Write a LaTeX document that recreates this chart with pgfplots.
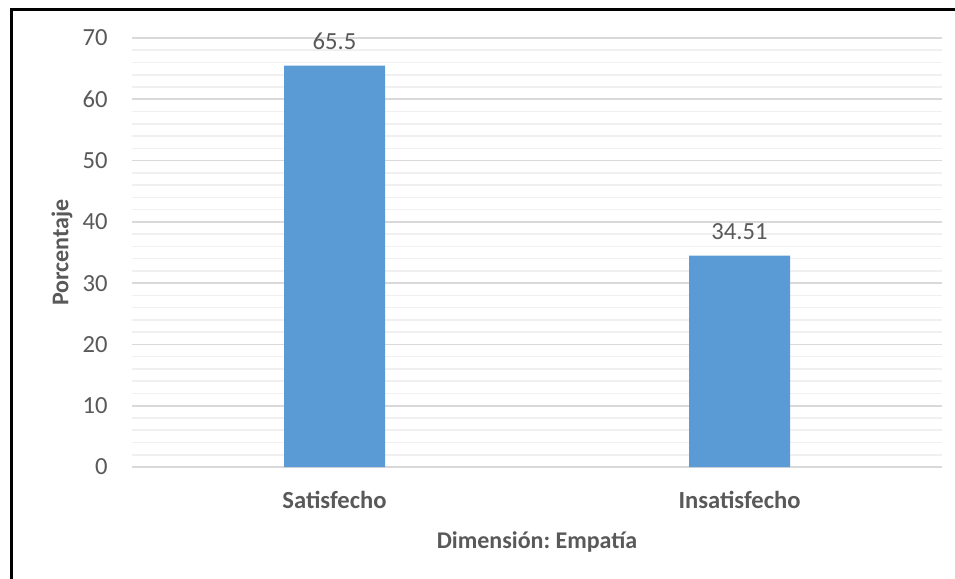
\documentclass[border=0pt]{standalone}
\usepackage{fontspec}
\setmainfont{Carlito}
\usepackage{pgfplots}
\pgfplotsset{compat=1.18}
\definecolor{barblue}{HTML}{5B9BD5}
\definecolor{txt}{HTML}{595959}
\definecolor{majgrid}{HTML}{D9D9D9}
\definecolor{mingrid}{HTML}{F0F0F0}
\frenchspacing
\begin{document}
\begin{tikzpicture}
\useasboundingbox (0,0) rectangle (477.5pt,289.5pt);
% frame around the chart
\draw[line width=1.5pt] (5.5pt,0) -- (5.5pt,284.5pt) -- (477.5pt,284.5pt);
\begin{axis}[
  at={(66pt,56pt)}, anchor=south west,
  scale only axis, width=405pt, height=214.5pt,
  xmin=-0.5, xmax=1.5, ymin=0, ymax=70,
  ytick={0,10,...,70}, minor y tick num=4,
  xtick={0,1},
  xticklabels={\textbf{Satisfecho},\textbf{Insatisfecho}},
  axis line style={draw=none},
  major tick style={draw=none}, minor tick style={draw=none},
  ymajorgrids, yminorgrids,
  major grid style={majgrid, line width=0.8pt},
  minor grid style={mingrid, line width=0.8pt},
  /pgf/number format/assume math mode=true,
  tick label style={font=\fontsize{12.3}{14}\selectfont, text=txt},
  yticklabel style={anchor=east, inner sep=0pt, xshift=-12pt},
  xticklabel style={anchor=center, inner sep=0pt, yshift=-16.5pt},
  every axis y label/.style={at={([xshift=-35pt]axis description cs:0,0.5)}, rotate=90, anchor=center,
    font=\fontsize{12}{14}\selectfont\bfseries, text=txt},
  every axis x label/.style={at={([yshift=-37.5pt]axis description cs:0.5,0)}, anchor=center,
    font=\fontsize{12}{14}\selectfont\bfseries, text=txt},
  ylabel={Porcentaje},
  xlabel={Dimensión: Empatía},
  clip=false,
]
\addplot[ybar, bar width=50.5pt, fill=barblue, draw=none,
  point meta=explicit symbolic,
  nodes near coords,
  every node near coord/.append style={font=\fontsize{12.3}{14}\selectfont, text=txt, anchor=south, inner sep=0pt, yshift=7.7pt}]
  coordinates {(0,65.5) [65.5] (1,34.51) [34.51]};
\end{axis}
\end{tikzpicture}
\end{document}
